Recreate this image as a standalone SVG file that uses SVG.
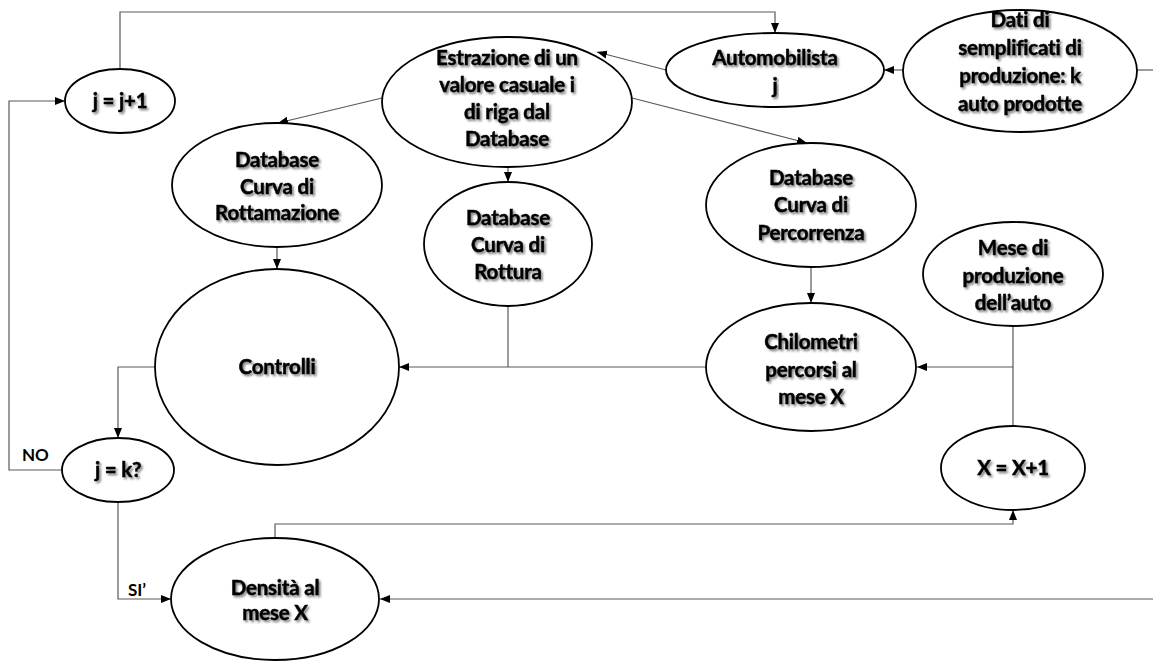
<svg xmlns="http://www.w3.org/2000/svg" width="1153" height="661" viewBox="0 0 1153 661">
  <style>
    .node ellipse { fill: #ffffff; stroke: #000000; stroke-width: 1.8; }
    .lbl { font-family: Lato, "Liberation Sans", sans-serif; font-weight: 700; font-size: 20.5px; letter-spacing: -0.2px; fill: #000000; stroke: #000000; stroke-width: 0.45; text-anchor: middle; filter: url(#shadow); }
    .tag { font-family: Lato, "Liberation Sans", sans-serif; font-weight: 700; font-size: 17px; fill: #000000; }
    .conn path { fill: none; stroke: #595959; stroke-width: 1.2; }
    .conn path.arr { marker-end: url(#head); }
  </style>
  <defs>
    <filter id="shadow" x="-10%" y="-30%" width="130%" height="170%">
      <feDropShadow dx="1.8" dy="2" stdDeviation="1.2" flood-color="#000000" flood-opacity="0.5"/>
    </filter>
    <marker id="head" markerUnits="userSpaceOnUse" markerWidth="10" markerHeight="10" viewBox="0 0 10 10" refX="10" refY="5" orient="auto">
      <path d="M0,1 L10,5 L0,9 Z" fill="#000000"/>
    </marker>
  </defs>

  <!-- connectors -->
  <g id="connectors" class="conn">
    <!-- j = j+1 up and over to Automobilista -->
    <path class="arr" d="M120,68 V12 H775 V33"/>
    <!-- Dati -> Automobilista -->
    <path class="arr" d="M904,70 H884"/>
    <!-- Dati off to the right -->
    <path d="M1137,70 H1153"/>
    <!-- Automobilista -> Estrazione -->
    <path class="arr" d="M666,70 L597,52"/>
    <!-- Estrazione -> Rottamazione -->
    <path class="arr" d="M382,98 L278,123"/>
    <!-- Estrazione -> Rottura -->
    <path class="arr" d="M508,167 V182"/>
    <!-- Estrazione -> Percorrenza -->
    <path class="arr" d="M632,98 L807,143"/>
    <!-- Rottamazione -> Controlli -->
    <path class="arr" d="M277,247 V269"/>
    <!-- Percorrenza -> Chilometri -->
    <path class="arr" d="M811,267 V303"/>
    <!-- Rottura joins the Chilometri line -->
    <path d="M508,306 V367"/>
    <!-- Chilometri -> Controlli -->
    <path class="arr" d="M706,367 H399"/>
    <!-- Mese / X = X+1 -> Chilometri -->
    <path d="M1013,326 V426"/>
    <path class="arr" d="M1013,367 H917"/>
    <!-- Controlli -> j = k? -->
    <path class="arr" d="M154,367 H118 V438"/>
    <!-- NO branch back to j = j+1 -->
    <path class="arr" d="M62,470 H9 V101 H65"/>
    <!-- SI' branch to Densita -->
    <path class="arr" d="M118,501 V599 H171"/>
    <!-- Densita -> X = X+1 -->
    <path class="arr" d="M275,538 V524 H1013 V510"/>
    <!-- incoming from the right to Densita -->
    <path class="arr" d="M1153,599 H380"/>
  </g>

  <g id="n-jj1" class="node">
    <ellipse cx="120" cy="101" rx="55" ry="32"/>
    <text class="lbl" x="120" y="108">j = j+1</text>
  </g>

  <g id="n-estrazione" class="node">
    <ellipse cx="507" cy="102" rx="125" ry="65"/>
    <text class="lbl" x="507" y="65">Estrazione di un</text>
    <text class="lbl" x="507" y="92">valore casuale i</text>
    <text class="lbl" x="507" y="119">di riga dal</text>
    <text class="lbl" x="507" y="146">Database</text>
  </g>

  <g id="n-automobilista" class="node">
    <ellipse cx="775" cy="70" rx="109" ry="37"/>
    <text class="lbl" x="775" y="65">Automobilista</text>
    <text class="lbl" x="775" y="93">j</text>
  </g>

  <g id="n-dati" class="node">
    <ellipse cx="1020" cy="71" rx="117" ry="61"/>
    <text class="lbl" x="1020" y="27">Dati di</text>
    <text class="lbl" x="1020" y="55">semplificati di</text>
    <text class="lbl" x="1020" y="83">produzione: k</text>
    <text class="lbl" x="1020" y="111">auto prodotte</text>
  </g>

  <g id="n-rottamazione" class="node">
    <ellipse cx="277" cy="185" rx="105" ry="62"/>
    <text class="lbl" x="277" y="167">Database</text>
    <text class="lbl" x="277" y="194">Curva di</text>
    <text class="lbl" x="277" y="220">Rottamazione</text>
  </g>

  <g id="n-rottura" class="node">
    <ellipse cx="508" cy="244" rx="84" ry="62"/>
    <text class="lbl" x="508" y="225">Database</text>
    <text class="lbl" x="508" y="252">Curva di</text>
    <text class="lbl" x="508" y="279">Rottura</text>
  </g>

  <g id="n-percorrenza" class="node">
    <ellipse cx="811" cy="205" rx="105" ry="62"/>
    <text class="lbl" x="811" y="185">Database</text>
    <text class="lbl" x="811" y="212">Curva di</text>
    <text class="lbl" x="811" y="240">Percorrenza</text>
  </g>

  <g id="n-mese" class="node">
    <ellipse cx="1013" cy="274" rx="90" ry="52"/>
    <text class="lbl" x="1013" y="255">Mese di</text>
    <text class="lbl" x="1013" y="283">produzione</text>
    <text class="lbl" x="1013" y="310">dell’auto</text>
  </g>

  <g id="n-controlli" class="node">
    <ellipse cx="277" cy="367" rx="122" ry="98"/>
    <text class="lbl" x="277" y="374">Controlli</text>
  </g>

  <g id="n-chilometri" class="node">
    <ellipse cx="811" cy="367" rx="105" ry="64"/>
    <text class="lbl" x="811" y="349">Chilometri</text>
    <text class="lbl" x="811" y="377">percorsi al</text>
    <text class="lbl" x="811" y="404">mese X</text>
  </g>

  <g id="n-jk" class="node">
    <ellipse cx="118" cy="470" rx="56" ry="32"/>
    <text class="lbl" x="118" y="477">j = k?</text>
  </g>

  <g id="n-xx1" class="node">
    <ellipse cx="1013" cy="468" rx="72" ry="42"/>
    <text class="lbl" x="1013" y="475">X = X+1</text>
  </g>

  <g id="n-densita" class="node">
    <ellipse cx="275" cy="599" rx="104" ry="61"/>
    <text class="lbl" x="275" y="595">Densità al</text>
    <text class="lbl" x="275" y="620">mese X</text>
  </g>

  <g id="labels">
    <text class="tag" x="22" y="461">NO</text>
    <text class="tag" x="128" y="596">SI’</text>
  </g>
</svg>
